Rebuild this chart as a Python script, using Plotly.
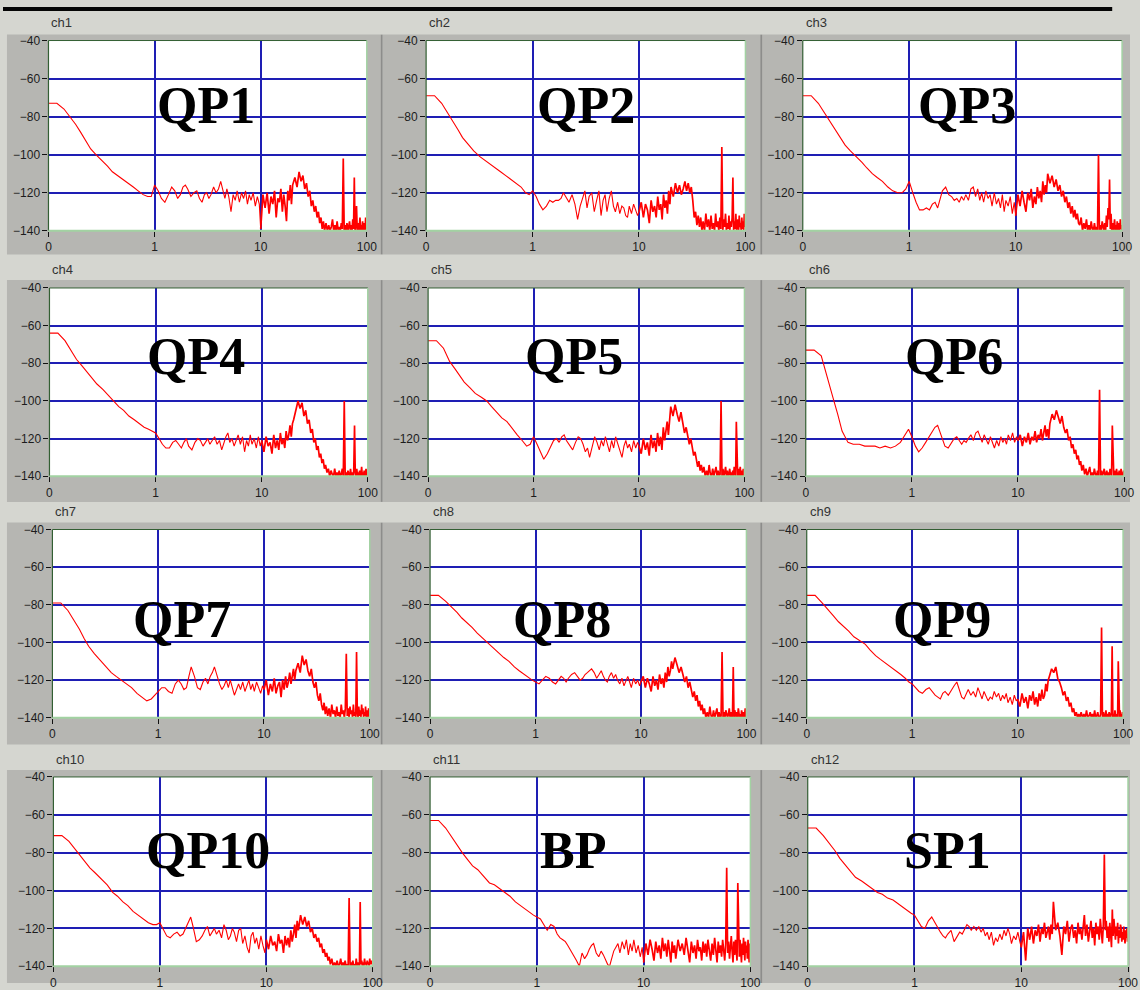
import plotly.graph_objects as go

# ---------------------------------------------------------------------------
# Frequency grid (Hz) shared by all channels
# ---------------------------------------------------------------------------
FREQ = [
    0.1, 0.11, 0.12, 0.14, 0.16, 0.18, 0.2, 0.22, 0.25, 0.28, 0.32, 0.36, 0.4, 0.45, 0.5, 0.56, 0.63, 0.7, 0.78, 0.86, 0.93,
    1.0, 1.08, 1.16, 1.25, 1.35, 1.45, 1.55, 1.65, 1.75, 1.85, 1.95, 2.05, 2.2, 2.35, 2.5, 2.65, 2.8, 2.95, 3.1, 3.25, 3.4, 3.6,
    3.8, 4.0, 4.2, 4.4, 4.6, 4.8, 5.0, 5.25, 5.5, 5.75, 6.0, 6.3, 6.6, 6.9, 7.2, 7.5, 7.8, 8.1, 8.5, 8.9, 9.3, 9.7,
    10, 10.5, 11, 11.5, 12, 12.5, 13, 13.5, 14, 14.5, 15, 15.5, 16, 16.5, 17, 17.5, 18, 18.5, 19, 19.5,
    20, 21, 22, 23, 24, 25, 26, 27, 28, 29, 30, 31, 32, 33, 34, 35, 36, 37, 38, 39,
    40, 41.25, 42.5, 43.75, 45, 46.25, 47.5, 48.75, 50, 51.25, 52.5, 53.75, 55, 56.25, 57.5, 58.75,
    60, 61.25, 62.5, 63.75, 65, 66.25, 67.5, 68.75, 70, 71.25, 72.5, 73.75, 75,
    76.25, 77.5, 78.75, 80, 81.25, 82.5, 83.75, 85, 86.25, 87.5, 88.75, 90, 91.25, 92.5, 93.75, 95, 96.25, 97.5, 98.75, 100,
]

CHANNELS = ["ch1", "ch2", "ch3", "ch4", "ch5", "ch6", "ch7", "ch8", "ch9", "ch10", "ch11", "ch12"]
SENSORS = ["QP1", "QP2", "QP3", "QP4", "QP5", "QP6", "QP7", "QP8", "QP9", "QP10", "BP", "SP1"]

X_TICKS = [0.1, 1, 10, 100]
X_TICK_TEXT = ["0", "1", "10", "100"]
Y_TICKS = [-140, -120, -100, -80, -60, -40]

# ---------------------------------------------------------------------------
# Power spectra (dB), one value per FREQ entry
# ---------------------------------------------------------------------------
CH1 = [
    -73, -73, -73, -76, -80, -84, -88, -92, -97, -100, -103, -106, -109, -111, -113, -115, -117, -119, -121, -122, -122,
    -116, -119, -123, -125, -121, -117, -119, -123, -121, -117, -116, -118, -122, -120, -119, -123, -125, -121, -120, -123, -121, -117,
    -120, -118, -114, -119, -123, -118, -122, -130, -121, -124, -119, -125, -120, -123, -119, -126, -121, -124, -120, -127, -122, -126,
    -139, -121, -128, -120, -131, -122, -126, -119, -133, -123, -125, -118, -130, -121, -127, -135, -119, -124, -116, -126,
    -116, -112, -117, -109, -114, -111, -118, -115, -122, -119, -127, -124, -130, -127, -133, -130, -136, -133, -139, -135,
    -140, -136, -140, -137, -140, -138, -134, -140, -137, -140, -135, -140, -138, -140, -136, -139,
    -102, -140, -137, -140, -136, -140, -138, -135, -140, -137, -140, -134, -139,
    -112, -140, -137, -127, -140, -136, -140, -138, -133, -140, -137, -140, -135, -140, -138, -136, -140, -133, -139, -137,
]
CH2 = [
    -69, -69, -69, -73, -78, -83, -87, -91, -95, -98, -101, -103, -105, -107, -109, -111, -113, -115, -117, -120, -121,
    -119, -122, -126, -129, -127, -124, -125, -124, -124, -123, -120, -122, -125, -121, -126, -134, -127, -123, -119, -128, -122, -120,
    -130, -124, -119, -132, -124, -121, -130, -123, -119, -127, -130, -125, -131, -127, -128, -132, -133, -127, -131, -126, -129, -132,
    -130, -125, -133, -126, -129, -136, -124, -130, -127, -133, -122, -129, -126, -134, -121, -128, -124, -131, -119, -126,
    -117, -122, -115, -120, -116, -121, -118, -114, -119, -115, -120, -117, -124, -133, -130, -137, -132, -138, -133, -140,
    -135, -140, -131, -138, -134, -140, -132, -139, -136, -140, -131, -138, -135, -140, -133, -139,
    -96, -140, -134, -138, -131, -140, -136, -139, -132, -140, -135, -138, -133,
    -112, -140, -135, -139, -131, -140, -137, -134, -140, -132, -138, -136, -140, -133, -139, -135, -140, -131, -138, -134,
]
CH3 = [
    -69, -69, -69, -73, -78, -83, -87, -90, -95, -98, -101, -104, -107, -110, -112, -114, -117, -119, -120, -120, -118,
    -114, -120, -125, -129, -129, -128, -129, -126, -125, -128, -123, -119, -117, -121, -122, -124, -123, -125, -122, -124, -121, -124,
    -118, -117, -122, -118, -124, -120, -125, -119, -123, -121, -127, -120, -126, -123, -128, -121, -130, -124, -127, -122, -131, -125,
    -132, -121, -127, -119, -125, -130, -120, -124, -118, -128, -122, -126, -117, -123, -119, -125, -114, -121, -116, -120,
    -110, -115, -111, -117, -113, -119, -116, -122, -119, -125, -122, -128, -125, -131, -127, -133, -129, -134, -131, -136,
    -137, -133, -140, -136, -139, -134, -140, -137, -140, -135, -139, -140, -136, -140, -138, -140,
    -100, -140, -137, -140, -135, -139, -140, -136, -140, -132, -138, -128, -134,
    -113, -139, -131, -140, -136, -140, -138, -134, -140, -137, -140, -135, -139, -140, -136, -140, -134, -139, -137, -140,
]
CH4 = [
    -64, -64, -64, -68, -73, -78, -81, -84, -88, -91, -94, -97, -100, -103, -105, -108, -110, -112, -114, -115, -116,
    -117, -120, -123, -125, -125, -122, -121, -123, -125, -122, -120, -124, -126, -122, -120, -121, -124, -122, -120, -123, -121, -119,
    -123, -121, -126, -122, -119, -117, -122, -120, -124, -121, -118, -123, -119, -127, -121, -124, -118, -123, -120, -125, -119, -124,
    -121, -127, -119, -124, -122, -128, -118, -125, -121, -126, -117, -123, -120, -125, -116, -121, -118, -113, -119, -112,
    -110, -105, -100, -104, -101, -108, -105, -112, -110, -117, -115, -122, -120, -126, -124, -130, -128, -133, -131, -136,
    -134, -138, -136, -140, -137, -139, -140, -136, -140, -138, -140, -137, -140, -139, -136, -140,
    -100, -140, -138, -140, -137, -139, -140, -136, -140, -138, -140, -137, -113,
    -139, -140, -136, -140, -138, -140, -137, -140, -139, -135, -140, -138, -140, -137, -140, -139, -136, -140, -138, -140,
]
CH5 = [
    -68, -68, -68, -72, -79, -83, -87, -90, -93, -96, -98, -100, -103, -106, -109, -111, -115, -118, -121, -124, -123,
    -119, -123, -127, -131, -128, -124, -121, -120, -122, -119, -118, -121, -124, -126, -122, -119, -120, -123, -127, -125, -130, -124,
    -119, -122, -126, -121, -124, -119, -123, -127, -121, -125, -119, -123, -126, -130, -124, -121, -125, -123, -127, -121, -125, -122,
    -124, -128, -120, -126, -122, -129, -118, -125, -121, -127, -117, -124, -119, -126, -114, -121, -116, -111, -118, -109,
    -103, -108, -102, -107, -111, -106, -113, -117, -114, -120, -123, -120, -126, -129, -127, -132, -135, -132, -137, -134,
    -138, -135, -140, -137, -140, -134, -139, -140, -136, -140, -138, -135, -140, -137, -140, -139,
    -100, -140, -136, -140, -138, -135, -140, -137, -140, -139, -136, -140, -138,
    -140, -137, -140, -135, -139, -140, -111, -138, -140, -136, -140, -138, -135, -140, -137, -140, -139, -136, -140, -138,
]
CH6 = [
    -73, -73, -73, -76, -87, -98, -107, -116, -122, -123, -123, -124, -124, -124, -125, -124, -125, -124, -122, -118, -115,
    -119, -124, -127, -125, -122, -119, -116, -114, -113, -117, -121, -124, -125, -122, -120, -119, -121, -123, -121, -122, -120, -118,
    -121, -117, -116, -119, -122, -118, -120, -123, -119, -122, -125, -121, -124, -119, -122, -120, -123, -118, -121, -117, -122, -119,
    -121, -118, -124, -119, -122, -117, -123, -119, -121, -116, -122, -118, -120, -115, -121, -117, -113, -119, -115, -120,
    -112, -107, -110, -105, -109, -112, -108, -114, -117, -115, -121, -119, -125, -123, -128, -126, -131, -129, -134, -132,
    -137, -134, -139, -136, -140, -137, -135, -140, -138, -140, -136, -139, -140, -137, -140, -94,
    -140, -137, -140, -138, -136, -140, -139, -137, -140, -138, -140, -136, -139,
    -140, -113, -138, -140, -137, -140, -139, -136, -140, -138, -140, -137, -140, -139, -136, -140, -138, -140, -137, -139,
]
CH7 = [
    -79, -79, -79, -83, -88, -93, -98, -102, -106, -109, -113, -116, -118, -120, -122, -124, -127, -129, -131, -130, -128,
    -126, -124, -124, -126, -127, -122, -120, -122, -125, -124, -118, -113, -118, -124, -125, -121, -119, -122, -118, -116, -113, -118,
    -122, -125, -123, -120, -124, -120, -124, -128, -125, -122, -125, -121, -126, -123, -120, -125, -122, -126, -121, -124, -127, -123,
    -125, -120, -128, -122, -126, -119, -127, -123, -121, -129, -120, -125, -118, -124, -121, -116, -122, -118, -114, -120,
    -115, -111, -116, -107, -112, -109, -115, -118, -114, -121, -124, -121, -128, -131, -127, -133, -136, -132, -138, -134,
    -139, -135, -140, -133, -138, -136, -140, -134, -139, -137, -140, -133, -138, -136, -140, -135,
    -106, -139, -135, -140, -134, -138, -136, -140, -133, -139, -137, -140, -105,
    -137, -140, -134, -139, -136, -140, -133, -138, -135, -140, -137, -139, -134, -140, -136, -138, -140, -135, -139, -137,
]
CH8 = [
    -75, -75, -75, -78, -81, -84, -87, -89, -92, -95, -98, -101, -103, -106, -108, -110, -113, -115, -117, -119, -120,
    -121, -122, -120, -118, -119, -121, -122, -120, -118, -119, -121, -119, -117, -116, -118, -120, -119, -117, -116, -115, -114, -116,
    -119, -117, -115, -118, -120, -121, -118, -116, -119, -117, -120, -122, -119, -123, -120, -118, -121, -124, -119, -122, -120, -123,
    -121, -118, -124, -119, -122, -126, -118, -123, -120, -125, -117, -122, -119, -124, -116, -121, -113, -118, -115, -110,
    -114, -108, -112, -116, -113, -118, -121, -118, -124, -121, -126, -129, -126, -131, -128, -134, -131, -136, -133, -138,
    -135, -140, -137, -140, -134, -139, -140, -136, -140, -138, -135, -140, -137, -140, -139, -105,
    -140, -137, -140, -136, -139, -140, -138, -135, -140, -137, -140, -139, -113,
    -140, -136, -139, -140, -137, -140, -135, -139, -140, -138, -140, -136, -139, -140, -137, -140, -138, -135, -140, -138,
]
CH9 = [
    -75, -75, -75, -79, -83, -86, -89, -91, -94, -97, -99, -101, -104, -107, -109, -111, -113, -115, -117, -119, -121,
    -122, -124, -126, -127, -125, -124, -126, -128, -129, -130, -127, -126, -128, -125, -123, -121, -125, -129, -130, -127, -125, -128,
    -126, -129, -124, -127, -130, -126, -128, -131, -129, -130, -126, -129, -127, -131, -128, -130, -127, -132, -129, -133, -128, -131,
    -130, -134, -127, -132, -129, -135, -128, -131, -126, -133, -129, -134, -127, -131, -125, -130, -128, -122, -126, -120,
    -118, -114, -116, -113, -119, -121, -124, -128, -126, -131, -129, -134, -132, -137, -135, -139, -137, -140, -138, -140,
    -137, -140, -138, -140, -136, -140, -139, -137, -140, -138, -140, -136, -140, -139, -137, -140,
    -140, -138, -92, -140, -137, -140, -139, -136, -140, -138, -140, -137, -139,
    -140, -137, -102, -140, -138, -140, -136, -139, -140, -138, -140, -110, -139, -140, -136, -140, -138, -140, -137, -139,
]
CH10 = [
    -71, -71, -71, -74, -78, -82, -85, -88, -91, -94, -97, -101, -103, -106, -108, -111, -113, -115, -117, -118, -118,
    -117, -121, -124, -125, -123, -122, -124, -123, -120, -117, -114, -119, -127, -126, -124, -121, -119, -124, -122, -120, -123, -121,
    -125, -118, -121, -126, -124, -120, -122, -127, -121, -120, -128, -124, -130, -133, -124, -122, -128, -125, -131, -124, -129, -133,
    -126, -131, -124, -129, -127, -132, -123, -128, -126, -133, -124, -129, -125, -130, -121, -127, -123, -118, -125, -116,
    -121, -113, -118, -114, -119, -116, -122, -120, -125, -123, -127, -125, -130, -128, -133, -131, -135, -133, -137, -135,
    -139, -136, -140, -138, -140, -137, -140, -139, -136, -140, -138, -140, -137, -140, -139, -140,
    -104, -140, -138, -140, -137, -140, -139, -140, -136, -140, -138, -139, -140,
    -106, -139, -137, -140, -138, -140, -136, -139, -138, -140, -137, -139, -138, -140, -136, -139, -138, -137, -139, -138,
]
CH11 = [
    -63, -63, -63, -67, -72, -76, -80, -83, -87, -89, -93, -96, -97, -99, -101, -103, -106, -108, -110, -112, -113,
    -114, -115, -118, -121, -118, -119, -123, -125, -126, -127, -129, -131, -134, -137, -140, -133, -136, -134, -131, -129, -128, -133,
    -135, -132, -134, -137, -139, -140, -136, -132, -130, -128, -133, -127, -131, -126, -134, -128, -132, -126, -133, -129, -135, -130,
    -138, -128, -134, -126, -131, -137, -127, -133, -129, -136, -125, -132, -128, -135, -126, -131, -138, -127, -133, -129,
    -136, -126, -132, -128, -134, -125, -131, -138, -127, -133, -129, -136, -126, -132, -130, -137, -127, -133, -128, -135,
    -126, -131, -137, -128, -134, -125, -132, -138, -127, -133, -129, -135, -126, -131, -137, -128,
    -88, -133, -127, -136, -129, -124, -132, -138, -127, -134, -126, -131, -137,
    -96, -129, -135, -126, -132, -138, -128, -134, -125, -131, -137, -127, -133, -129, -136, -126, -132, -138, -128, -134,
]
CH12 = [
    -67, -67, -67, -71, -75, -79, -83, -86, -90, -93, -95, -97, -99, -101, -102, -104, -105, -107, -109, -111, -112,
    -113, -116, -119, -120, -116, -114, -117, -120, -122, -124, -125, -123, -121, -127, -124, -122, -123, -120, -118, -119, -121, -119,
    -121, -119, -122, -120, -124, -122, -126, -122, -129, -125, -127, -123, -126, -121, -124, -120, -123, -128, -124, -126, -122, -127,
    -130, -122, -137, -120, -126, -119, -128, -121, -124, -118, -127, -120, -123, -117, -125, -121, -119, -126, -118, -123,
    -106, -121, -117, -124, -134, -119, -123, -116, -127, -120, -118, -125, -121, -128, -117, -123, -120, -126, -119, -113,
    -124, -118, -127, -121, -116, -125, -120, -129, -117, -123, -119, -126, -115, -122, -128, -118,
    -81, -121, -116, -125, -119, -127, -117, -123, -130, -110, -124, -115, -122,
    -126, -119, -124, -117, -128, -121, -125, -118, -120, -127, -122, -126, -119, -124, -128, -121, -125, -120, -127, -123,
]

SERIES = [CH1, CH2, CH3, CH4, CH5, CH6, CH7, CH8, CH9, CH10, CH11, CH12]
for name, vals in zip(CHANNELS, SERIES):
    assert len(vals) == len(FREQ), f"{name}: {len(vals)} values for {len(FREQ)} frequencies"

# above this frequency the trace is drawn a little heavier (dense FFT band)
BAND_START_HZ = 10

# ---------------------------------------------------------------------------
# Page geometry (pixels) and colours
# ---------------------------------------------------------------------------
W, H = 1140, 990

# plot rectangles: left, right, top, bottom
PLOT_BOX = [
    (46, 368, 34, 227), (428, 751, 34, 227), (809, 1132, 34, 227),
    (47, 369, 285, 476), (430, 750, 285, 476), (812, 1134, 285, 476),
    (50, 371, 530, 721), (432, 752, 530, 721), (813, 1133, 530, 721),
    (51, 374, 781, 973), (432, 756, 781, 973), (814, 1138, 781, 973),
]
# centre of the big sensor label in each panel
LABEL_XY = [
    (205, 100), (590, 100), (975, 100),
    (195, 355), (578, 355), (962, 355),
    (181, 621), (565, 621), (950, 621),
    (207, 856), (577, 856), (955, 856),
]
COL_SPANS = [(4, 382), (384, 766), (768, 1140)]
ROW_SPANS = [(28, 251), (277, 502), (523, 748), (774, 990)]
TITLE_Y = [16, 266, 512, 763]

WINDOW_BG = "#d5d6d0"
FRAME_BG = "#b6b6b2"
SEPARATOR = "#8d8d8b"
GRID = "#1e1eb4"
EDGE_DARK = "#335f33"
EDGE_LIGHT = "#a2d2a2"
TRACE = "#ff0000"
TICK_FONT = dict(family="Liberation Sans, Arial, sans-serif", size=12, color="#1c1c1c")


def px(x):
    return x / W


def py(y):
    return 1 - y / H


fig = go.Figure()
shapes = []
annotations = []

# window chrome: black bar on top, grey frames behind each plot
shapes.append(dict(type="rect", xref="paper", yref="paper", x0=0, x1=px(1122), y0=py(4), y1=1,
                   fillcolor="#050505", line_width=0, layer="below"))
for (r0, r1) in ROW_SPANS:
    for (c0, c1) in COL_SPANS:
        shapes.append(dict(type="rect", xref="paper", yref="paper", x0=px(c0), x1=px(c1),
                           y0=py(r1), y1=py(r0), fillcolor=FRAME_BG, line_width=0, layer="below"))
    for sep in (382, 766):
        shapes.append(dict(type="rect", xref="paper", yref="paper", x0=px(sep), x1=px(sep + 2),
                           y0=py(r1), y1=py(r0), fillcolor=SEPARATOR, line_width=0, layer="below"))

split = FREQ.index(BAND_START_HZ)

for i, (vals, box) in enumerate(zip(SERIES, PLOT_BOX)):
    n = "" if i == 0 else str(i + 1)
    l, r, t, b = box

    # white plotting area
    shapes.append(dict(type="rect", xref="paper", yref="paper", x0=px(l), x1=px(r),
                       y0=py(b), y1=py(t), fillcolor="#ffffff", line_width=0, layer="below"))
    # frame edges
    shapes.append(dict(type="line", xref="paper", yref="paper", x0=px(l), x1=px(l), y0=py(b), y1=py(t),
                       line=dict(color=EDGE_DARK, width=1.2), layer="above"))
    shapes.append(dict(type="line", xref="paper", yref="paper", x0=px(l), x1=px(r), y0=py(t), y1=py(t),
                       line=dict(color=EDGE_DARK, width=1), layer="above"))
    shapes.append(dict(type="line", xref="paper", yref="paper", x0=px(r), x1=px(r), y0=py(b), y1=py(t),
                       line=dict(color=EDGE_LIGHT, width=1.5), layer="above"))
    shapes.append(dict(type="line", xref="paper", yref="paper", x0=px(l), x1=px(r), y0=py(b), y1=py(b),
                       line=dict(color=EDGE_LIGHT, width=2), layer="above"))

    # smooth low-frequency part, then the dense high-frequency band
    fig.add_trace(go.Scatter(
        x=FREQ[:split + 1], y=vals[:split + 1], mode="lines", xaxis="x" + n, yaxis="y" + n,
        line=dict(color=TRACE, width=1.1), showlegend=False, hoverinfo="skip",
    ))
    fig.add_trace(go.Scatter(
        x=FREQ[split:], y=vals[split:], mode="lines", xaxis="x" + n, yaxis="y" + n,
        line=dict(color=TRACE, width=1.7), showlegend=False, hoverinfo="skip",
    ))

    fig.layout["xaxis" + n] = dict(
        domain=[px(l), px(r)], anchor="y" + n, type="log", range=[-1, 2],
        tickmode="array", tickvals=X_TICKS, ticktext=X_TICK_TEXT,
        ticks="outside", ticklen=5, tickwidth=1, tickcolor="#111111",
        showgrid=True, gridcolor=GRID, gridwidth=1.5, zeroline=False, showline=False,
        tickfont=TICK_FONT, fixedrange=True,
    )
    fig.layout["yaxis" + n] = dict(
        domain=[py(b), py(t)], anchor="x" + n, range=[-140, -40],
        tickmode="array", tickvals=Y_TICKS,
        ticks="outside", ticklen=5, tickwidth=1, tickcolor="#111111",
        showgrid=True, gridcolor=GRID, gridwidth=1.5, zeroline=False, showline=False,
        tickfont=TICK_FONT, fixedrange=True,
    )

    # channel caption in the strip above the frame
    annotations.append(dict(
        text=CHANNELS[i], xref="paper", yref="paper", x=px(l + 1), y=py(TITLE_Y[i // 3]),
        xanchor="left", yanchor="middle", showarrow=False,
        font=dict(family="Liberation Sans, Arial, sans-serif", size=13, color="#333333"),
    ))
    # sensor name
    lx, ly = LABEL_XY[i]
    annotations.append(dict(
        text="<b>" + SENSORS[i] + "</b>", xref="paper", yref="paper", x=px(lx), y=py(ly),
        xanchor="center", yanchor="middle", showarrow=False,
        font=dict(family="Liberation Serif, Times New Roman, serif", size=52, color="#000000"),
    ))

fig.update_layout(
    width=W, height=H, autosize=False,
    margin=dict(l=0, r=0, t=0, b=0),
    paper_bgcolor=WINDOW_BG, plot_bgcolor="rgba(0,0,0,0)",
    shapes=shapes, annotations=annotations, showlegend=False,
)

fig.write_html("out.html")
